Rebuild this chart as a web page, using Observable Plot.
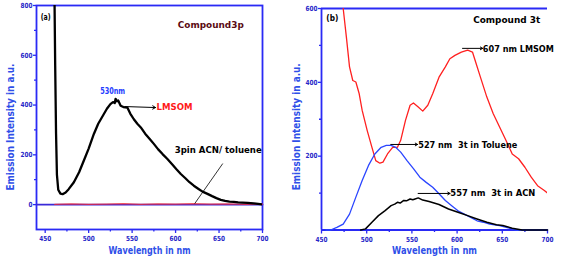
<!DOCTYPE html>
<html><head><meta charset="utf-8">
<script src="https://cdn.jsdelivr.net/npm/d3@7"></script>
<script src="https://cdn.jsdelivr.net/npm/@observablehq/plot@0.6"></script>
<style>
body{margin:0;background:#fff;}
#wrap{position:relative;width:567px;height:264px;overflow:hidden;background:#fff;}
#a,#b{position:absolute;top:0;}
#a{left:0;} #b{left:290px;}
</style></head><body><div id="wrap"><div id="a"></div><div id="b"></div></div>
<script>
// ---------- Panel (a): Compound 3p ----------
const aXTicks = [450, 500, 550, 600, 650, 700];
const aXMinor = [475, 525, 575, 625, 675];
const aYTicks = [0, 200, 400, 600, 800];
const aYMinor = [100, 300, 500, 700];
const aBlackWl = [460.5,461.5,462.5,463.5,465,467.5,470,473.5,477,483,489,494.5,500,506,511,517.5,521,525,528,530,531,532.5,534,536.8,540,544.5,548,552,556,560,565,570,575,580,585,590.6,596,601,606,611,616,621,626,631,636.7,642,647,652,657,662,667,672,677,683,690,695,700];
const aBlackVal = [900,560,285,120,60,44,42,49,62,90,130,177,225,284,325,364,385,404,412,408,425,415,418,397,392,390,365,343,325,310,285,265,244,222,203,183,162,142,123,107,90,76,64,52,43,34,26,19,15,12,11,9,8,7,5,3,1];
const aRedWl = [461,480,500,520,540,560,580,600,620,640,660,680,700];
const aRedVal = [1,3,1,2,4,1,3,2,4,2,3,1,2];
const aBlueWl = [440, 700];
const aBlueVal = [0, 0];

// ---------- Panel (b): Compound 3t ----------
const bXTicks = [450, 500, 550, 600, 650, 700];
const bXMinor = [475, 525, 575, 625, 675];
const bYTicks = [200, 400, 600];
const bYMinor = [100, 300, 500];
const bRedWl = [472,474,477.5,481,484.6,488,491.7,495,500.5,505.8,510,514.6,518,523,528.7,534,537.6,542.9,548,551.7,557,562,567.6,573,580,587,592,597.6,604.7,611.7,617,620.5,625.8,632.9,640,647,654,661,668,675,682,689,696.5,700];
const bRedVal = [660,600,523,442,405,401,369,324,270,224,188,181,184,206,224,224,243,297,338,344,333,322,338,369,414,442,464,473,482,487,482,455,414,360,315,279,243,206,193,170,143,120,107,100];
const bBlueWl = [455,460,467,474,481,488,495,502,509,516,521.7,527,532,537.6,544.6,551.7,558.8,565.8,573,580,587,594,601,608,615,622,629,636,647,657.6,665,700];
const bBlueVal = [0,0,7,16,43,89,134,175,206,224,229,229,224,211,188,166,143,129,116,98,80,66,52,43,34,25,21,16,12,5,0,0];
const bBlackWl = [493.4,498.7,505.8,513,520,527,531,534,537,541,544,548,551,553.5,557,562,569,580,590.5,601,611.7,622,633,643.5,650.6,661,672,700];
const bBlackVal = [0,3,21,39,52,66,70,75,73,80,79,84,82,84,87,81,77,69,57,48,39,30,21,14,12,5,0,0];

const frameBlue = "#2a2af5";
const tickBlue = "#2626c8";
const titleBlue = "#2f4fe8";
const font = "'DejaVu Sans', 'Liberation Sans', sans-serif";

const zip = (xs, ys) => xs.map((x, i) => ({x, y: ys[i]}));

function fit(svg, widths) {
  d3.select(svg).selectAll("text").each(function() {
    const t = this.textContent;
    let w = widths[t];
    if (w == null && /^\d+$/.test(t)) w = 4 * t.length;
    if (w != null) {
      this.setAttribute("textLength", w);
      this.setAttribute("lengthAdjust", "spacingAndGlyphs");
    }
  });
}

const txt = (s, x, y, o) => Plot.text([s], {x, y, text: d => d, fontWeight: "bold", ...o});

const plotA = Plot.plot({
  width: 290, height: 264,
  marginLeft: 36, marginRight: 28, marginTop: 5, marginBottom: 35,
  x: {domain: [440, 700]},
  y: {domain: [-100, 800]},
  style: {fontFamily: font, background: "transparent", fontWeight: "bold"},
  marks: [
    Plot.axisX(aXTicks, {anchor: "bottom", tickSize: 4, tickPadding: 3, stroke: frameBlue, strokeWidth: 1.3, fill: tickBlue, fontSize: 7, label: null}),
    Plot.axisX(aXMinor, {anchor: "bottom", tickSize: 2.5, stroke: frameBlue, strokeWidth: 1.3, fill: "none", label: null}),
    Plot.axisY(aYTicks, {anchor: "left", tickSize: 3, tickPadding: 1, stroke: frameBlue, strokeWidth: 1.3, fill: tickBlue, fontSize: 7, label: null}),
    Plot.axisY(aYMinor, {anchor: "left", tickSize: 2, stroke: frameBlue, strokeWidth: 1.3, fill: "none", label: null}),
    Plot.frame({stroke: frameBlue, strokeWidth: 1.8}),
    Plot.line(zip(aBlueWl, aBlueVal), {x: "x", y: "y", stroke: "#3a2ad8", strokeWidth: 1.8}),
    Plot.line(zip(aRedWl, aRedVal), {x: "x", y: "y", stroke: "#ff2a2a", strokeWidth: 1.2, strokeOpacity: 0.75}),
    Plot.line(zip(aBlackWl, aBlackVal), {x: "x", y: "y", stroke: "#000", strokeWidth: 2.3, clip: true}),
    txt("(a)", 450.5, 752, {fontSize: 9, fill: "#000"}),
    txt("Compound3p", 640.5, 720, {fontSize: 9, fill: "#5a0a12"}),
    txt("530nm", 527.6, 458, {fontSize: 9, fill: "#1e3cff"}),
    Plot.arrow([0], {x1: 541.5, y1: 394, x2: 577, y2: 390, stroke: "#000", strokeWidth: 1, headLength: 5}),
    txt("LMSOM", 578, 390, {fontSize: 9, fill: "#ff1a1a", textAnchor: "start"}),
    txt("3pin ACN/ toluene", 599, 217, {fontSize: 9, fill: "#000", textAnchor: "start"}),
    Plot.link([0], {x1: 654.3, y1: 165, x2: 622, y2: 4, stroke: "#000", strokeWidth: 0.8}),
    Plot.text(["Wavelength in nm"], {frameAnchor: "bottom", dy: 24, text: d => d, fontSize: 11, fontWeight: "bold", fill: titleBlue}),
    Plot.text(["Emission Intensity in a.u."], {frameAnchor: "left", dx: -26, dy: 73, rotate: -90, textAnchor: "start", text: d => d, fontSize: 11, fontWeight: "bold", fill: titleBlue})
  ]
});
fit(plotA, {"(a)": 10, "Compound3p": 66, "530nm": 25, "LMSOM": 36, "3pin ACN/ toluene": 87, "Wavelength in nm": 82, "Emission Intensity in a.u.": 127});
document.getElementById("a").appendChild(plotA);

const plotB = Plot.plot({
  width: 277, height: 264,
  marginLeft: 31, marginRight: 20, marginTop: 8, marginBottom: 34.5,
  x: {domain: [450, 700]},
  y: {domain: [0, 600]},
  style: {fontFamily: font, background: "transparent", fontWeight: "bold"},
  marks: [
    Plot.axisX(bXTicks, {anchor: "bottom", tickSize: 4, tickPadding: 3, stroke: frameBlue, strokeWidth: 1.3, fill: tickBlue, fontSize: 7, label: null}),
    Plot.axisX(bXMinor, {anchor: "bottom", tickSize: 2.5, stroke: frameBlue, strokeWidth: 1.3, fill: "none", label: null}),
    Plot.axisY(bYTicks, {anchor: "left", tickSize: 3, tickPadding: 1, stroke: frameBlue, strokeWidth: 1.3, fill: tickBlue, fontSize: 7, label: null}),
    Plot.axisY(bYMinor, {anchor: "left", tickSize: 2, stroke: frameBlue, strokeWidth: 1.3, fill: "none", label: null}),
    Plot.ruleX([450], {stroke: frameBlue, strokeWidth: 1.8}),
    Plot.ruleY([0, 600], {stroke: frameBlue, strokeWidth: 1.8}),
    Plot.line(zip(bRedWl, bRedVal), {x: "x", y: "y", stroke: "#ff2020", strokeWidth: 1.3, clip: true}),
    Plot.line(zip(bBlueWl, bBlueVal), {x: "x", y: "y", stroke: "#2a45ff", strokeWidth: 1.3}),
    Plot.line(zip(bBlackWl, bBlackVal), {x: "x", y: "y", stroke: "#000", strokeWidth: 1.5}),
    txt("(b)", 462, 573, {fontSize: 9, fill: "#000"}),
    txt("Compound 3t", 654.8, 568, {fontSize: 9, fill: "#000"}),
    Plot.arrow([0], {x1: 606, y1: 492, x2: 628.3, y2: 492, stroke: "#000", strokeWidth: 1, headLength: 4}),
    txt("607 nm LMSOM", 628.5, 490, {fontSize: 9, fill: "#000", textAnchor: "start"}),
    Plot.arrow([0], {x1: 526.6, y1: 231.7, x2: 556.3, y2: 231.7, stroke: "#000", strokeWidth: 1, headLength: 4}),
    txt("527 nm  3t in Toluene", 557, 231, {fontSize: 9, fill: "#000", textAnchor: "start"}),
    Plot.arrow([0], {x1: 556.9, y1: 99, x2: 592.2, y2: 99, stroke: "#000", strokeWidth: 1, headLength: 4}),
    txt("557 nm  3t in ACN", 592.5, 99, {fontSize: 9, fill: "#000", textAnchor: "start"}),
    Plot.text(["Wavelength in nm"], {frameAnchor: "bottom", dy: 24, text: d => d, fontSize: 11, fontWeight: "bold", fill: titleBlue}),
    Plot.text(["Emission Intensity in a.u."], {frameAnchor: "left", dx: -25, dy: 71, rotate: -90, textAnchor: "start", text: d => d, fontSize: 10.5, fontWeight: "bold", fill: titleBlue})
  ]
});
fit(plotB, {"(b)": 12, "Compound 3t": 67, "607 nm LMSOM": 71, "527 nm  3t in Toluene": 99, "557 nm  3t in ACN": 85, "Wavelength in nm": 85, "Emission Intensity in a.u.": 127});
document.getElementById("b").appendChild(plotB);
</script>
</body></html>
